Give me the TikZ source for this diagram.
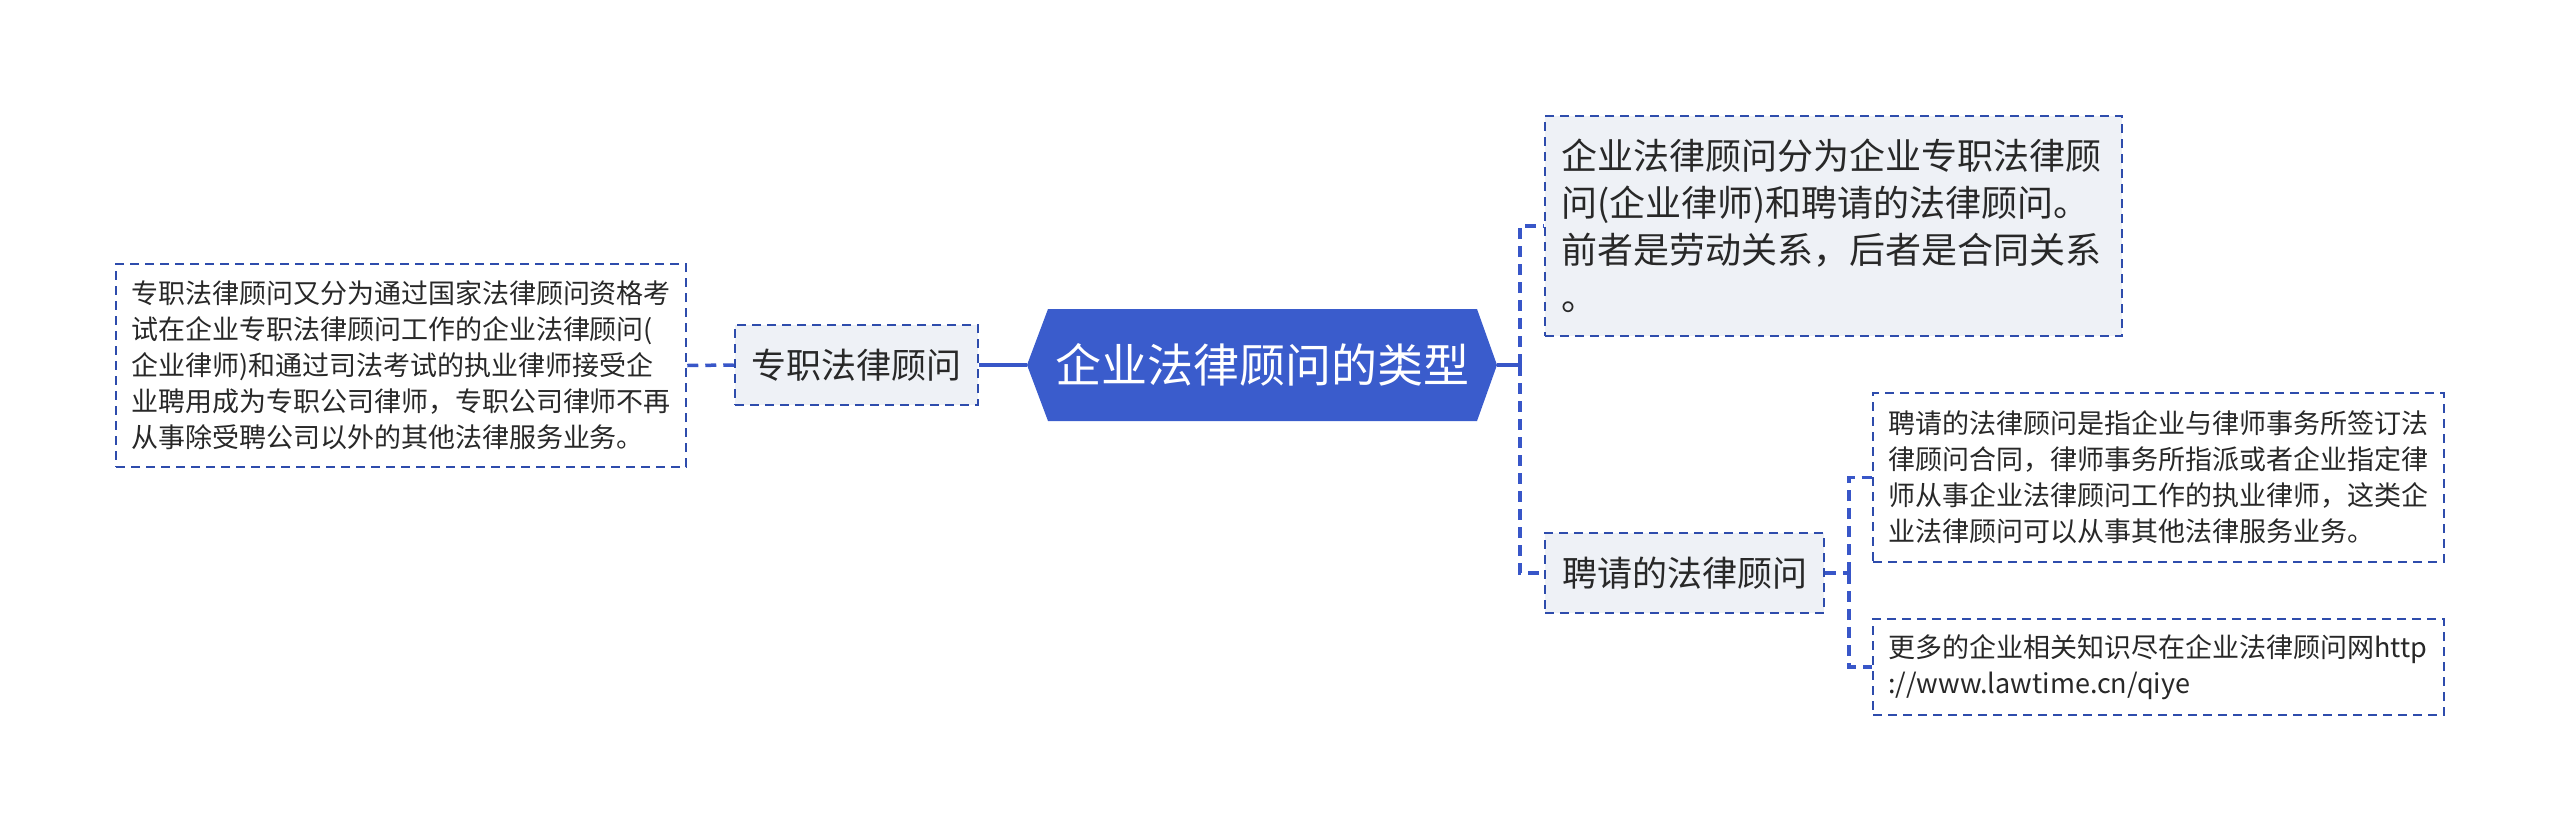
\documentclass[tikz,border=0pt]{standalone}
\usepackage{fontspec}
\setmainfont{Noto Sans CJK SC}
\definecolor{rootblue}{RGB}{58,92,204}
\definecolor{bordercol}{RGB}{46,76,172}
\definecolor{conncol}{RGB}{56,86,200}
\definecolor{boxfill}{RGB}{238,241,246}
\definecolor{txt}{RGB}{40,40,40}
\tikzset{
  dbox/.style={draw=bordercol, line width=2.5pt, dash pattern=on 9pt off 6pt, inner sep=0pt, text=txt, align=left},
  grayfill/.style={fill=boxfill},
  conn/.style={draw=conncol, line width=3.5pt, dash pattern=on 11pt off 7pt},
  solidconn/.style={draw=conncol, line width=3.5pt},
  rootnode/.style={text=white, inner sep=0pt, minimum width=470pt, minimum height=112pt, font=\fontsize{46}{54}\selectfont},
}
\begin{document}
\begin{tikzpicture}[x=1pt,y=-1pt]
\useasboundingbox (0,0) rectangle (2560,833);
% root hexagon
\fill[rootblue] (1027,365) -- (1048,309) -- (1477,309) -- (1497,365) -- (1477,421) -- (1048,421) -- cycle;
\node[rootnode] (root) at (1262,365) {企业法律顾问的类型};

% left side
\node[dbox, grayfill, minimum width=243pt, minimum height=80pt, font=\fontsize{35}{42}\selectfont, align=center] (zz) at (856.5,365) {专职法律顾问};
\node[dbox, minimum width=570pt, minimum height=203pt, text width=540pt, inner xsep=15pt, font=\fontsize{27}{36}\selectfont] (ldesc) at (401,365.5)
{专职法律顾问又分为通过国家法律顾问资格考\\试在企业专职法律顾问工作的企业法律顾问(\\企业律师)和通过司法考试的执业律师接受企\\业聘用成为专职公司律师，专职公司律师不再\\从事除受聘公司以外的其他法律服务业务。};

% right side
\node[dbox, grayfill, minimum width=577pt, minimum height=220pt, text width=545pt, inner xsep=16pt, font=\fontsize{36}{47}\selectfont] (top) at (1833.5,226)
{企业法律顾问分为企业专职法律顾\\问(企业律师)和聘请的法律顾问。\\前者是劳动关系，后者是合同关系\\。};
\node[dbox, grayfill, minimum width=279pt, minimum height=80pt, font=\fontsize{35}{42}\selectfont, align=center] (pin) at (1684.5,573) {聘请的法律顾问};
\node[dbox, minimum width=571pt, minimum height=169pt, text width=541pt, inner xsep=15pt, font=\fontsize{27}{36}\selectfont] (a) at (2158.5,477.5)
{聘请的法律顾问是指企业与律师事务所签订法\\律顾问合同，律师事务所指派或者企业指定律\\师从事企业法律顾问工作的执业律师，这类企\\业法律顾问可以从事其他法律服务业务。};
\node[dbox, minimum width=571pt, minimum height=96pt, text width=541pt, inner xsep=15pt, font=\fontsize{27}{36}\selectfont] (b) at (2158.5,667)
{更多的企业相关知识尽在企业法律顾问网http\\://www.lawtime.cn/qiye};

% connectors
\draw[conn] (ldesc.east) -- (zz.west);
\draw[solidconn] (zz.east) -- (root.west);
\coordinate (rj) at (1520,365);
\draw[solidconn] (root.east) -- (rj);
\draw[conn] (rj) |- (top.west);
\draw[conn] (rj) |- (pin.west);
\coordinate (pj) at (1849,573);
\draw[conn] (pin.east) -- (pj);
\draw[conn] (pj) |- (a.west);
\draw[conn] (pj) |- (b.west);
\end{tikzpicture}
\end{document}
